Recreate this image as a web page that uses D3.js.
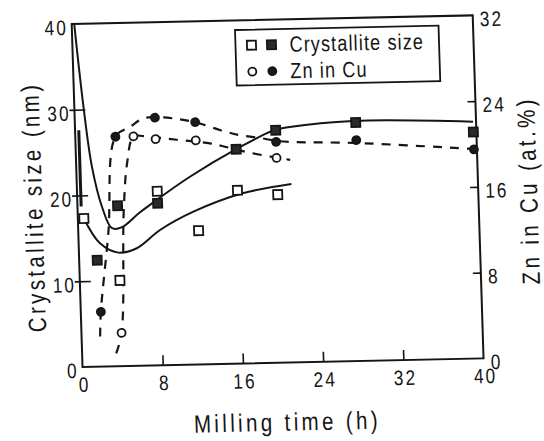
<!DOCTYPE html>
<html>
<head>
<meta charset="utf-8">
<script src="https://cdn.jsdelivr.net/npm/d3@7"></script>
<style>
  html, body { margin: 0; padding: 0; background: #fff; }
  svg { display: block; }
  text { font-family: "Liberation Sans", Arial, sans-serif; fill: #151515; }
</style>
</head>
<body>
<svg id="chart" width="544" height="441"></svg>
<script>
// ---- measured points ----
const crystOpenTime   = [0.6, 4, 8, 12, 16, 20];
const crystOpenSize   = [17.3, 10.0, 20.3, 15.6, 20.2, 19.6];
const crystFilledTime = [1.8, 4, 8, 16, 20, 28, 39.7];
const crystFilledSize = [12.4, 18.7, 18.9, 25.0, 27.1, 27.8, 26.4];
const znOpenTime      = [4, 5.8, 8, 12, 20];
const znOpenValue     = [3.1, 21.4, 21.1, 20.9, 19.1];
const znFilledTime    = [2, 4, 8, 12, 20, 28, 39.7];
const znFilledValue   = [5.1, 21.4, 23.1, 22.6, 20.6, 20.6, 19.5];

// ---- trend curves ----
const trendCrystFilledTime = [0.25, 0.9, 1.57, 2.45, 3.38, 4.38, 6.12, 7.44, 11.3, 16, 19.8, 21.4, 27.75, 39.7];
const trendCrystFilledSize = [40, 30.5, 23.3, 18.6, 16.1, 16.2, 17.8, 18.9, 21.9, 25.0, 27.1, 27.45, 28.0, 27.6];
const trendCrystOpenTime   = [0.6, 2.13, 3.93, 5.78, 8.16, 11.54, 16.5, 21.4];
const trendCrystOpenSize   = [17.3, 14.37, 13.24, 13.7, 15.77, 17.82, 19.84, 20.8];
const trendZnFilledTime    = [1.85, 2.0, 3.0, 4.0, 5.5, 6.8, 8, 9.8, 12, 14.5, 16.4, 18.4, 20, 21.7, 27.7, 39.6];
const trendZnFilledValue   = [2.8, 5.1, 12.5, 21.4, 22.3, 23.05, 23.15, 23.0, 22.6, 21.8, 21.3, 21.0, 20.7, 20.55, 20.35, 19.55];
const trendZnOpenTime      = [3.4, 4.0, 4.6, 5.1, 5.8, 6.8, 8.5, 10.1, 13.4, 15.1, 17.1, 19.6, 21.35];
const trendZnOpenValue     = [1.2, 3.1, 14.5, 19.0, 21.4, 21.4, 21.2, 21.0, 20.6, 20.2, 19.7, 19.2, 18.9];

// initial size spread at t = 0
const initialSpreadTime = 0.37;
const initialSpreadSize = [18.7, 27.6];

// ---- axes ticks / labels ----
const timeTicks = [0, 8, 16, 24, 32, 40];
const sizeTicks = [0, 10, 20, 30, 40];
const znTicks   = [0, 8, 16, 24, 32];
const legendLabels = ["Crystallite size", "Zn in Cu"];
const xTitle = "Milling time (h)";
const yLeftTitle = "Crystallite size (nm)";
const yRightTitle = "Zn in Cu (at.%)";

const W = 401, H = 343;
const ink = "#151515";
const NARROW = 0.82;   // horizontal squeeze of the lettering

const svg = d3.select("#chart");
// the sheet sits slightly askew on the page
const g = svg.append("g").attr("transform", "matrix(1,-0.0215,0.0316,1,71.7,24)");

const x  = d3.scaleLinear().domain([0, 40]).range([0, W]);
const yL = d3.scaleLinear().domain([0, 40]).range([H, 0]);
const yR = d3.scaleLinear().domain([0, 32]).range([H, 0]);

// place a narrow text at (tx, ty), optionally rotated
function narrow(sel, tx, ty, rot) {
  sel.attr("x", 0).attr("y", 0)
     .attr("transform", `translate(${tx},${ty})${rot ? ` rotate(${rot})` : ""} scale(${NARROW},1)`);
}

// frame
g.append("rect").attr("x", 0).attr("y", 0).attr("width", W).attr("height", H)
  .attr("fill", "none").attr("stroke", ink).attr("stroke-width", 2);

// bottom axis
const axB = g.append("g").attr("transform", `translate(0,${H})`)
  .call(d3.axisBottom(x).tickValues(timeTicks).tickSize(0).tickPadding(0));
axB.select(".domain").remove();
axB.selectAll(".tick line")
  .attr("y2", d => (d > 0 && d < 40) ? -10 : 0)
  .attr("stroke", ink).attr("stroke-width", 1.6);
axB.selectAll(".tick text")
  .attr("dy", 0).style("font-size", "21px").style("letter-spacing", "2.5px").attr("fill", ink)
  .each(function () { narrow(d3.select(this), 1, 25); });

// left axis
const axL = g.append("g")
  .call(d3.axisLeft(yL).tickValues(sizeTicks).tickSize(0).tickPadding(0));
axL.select(".domain").remove();
axL.selectAll(".tick line")
  .attr("x1", d => (d > 0 && d < 40) ? -5 : 0)
  .attr("x2", d => (d > 0 && d < 40) ? 11 : 0)
  .attr("stroke", ink).attr("stroke-width", 1.6);
axL.selectAll(".tick text")
  .attr("dy", "0.5em").style("font-size", "21px").style("letter-spacing", "2.5px").attr("fill", ink)
  .each(function () { narrow(d3.select(this), -4, 0); });

// right axis
const axR = g.append("g").attr("transform", `translate(${W},0)`)
  .call(d3.axisRight(yR).tickValues(znTicks).tickSize(0).tickPadding(0));
axR.select(".domain").remove();
axR.selectAll(".tick line")
  .attr("x1", d => (d > 0 && d < 32) ? -8 : 0)
  .attr("x2", 0)
  .attr("stroke", ink).attr("stroke-width", 1.6);
axR.selectAll(".tick text")
  .attr("dy", "0.5em").style("font-size", "21px").style("letter-spacing", "2.5px").attr("fill", ink)
  .each(function () { narrow(d3.select(this), 7, 0); });

// axis titles
g.append("text").attr("text-anchor", "middle")
  .style("font-size", "25px").style("letter-spacing", "4.1px").text(xTitle)
  .call(narrow, 203, 411);
g.append("text").attr("text-anchor", "middle").attr("dominant-baseline", "central")
  .style("font-size", "25px").style("letter-spacing", "4.1px").text(yLeftTitle)
  .call(narrow, -44, 182, -90);
g.append("text").attr("text-anchor", "middle").attr("dominant-baseline", "central")
  .style("font-size", "25px").style("letter-spacing", "4.1px").text(yRightTitle)
  .call(narrow, 451, 176, -90);

// trend curves
const zip = (a, b) => a.map((v, i) => [v, b[i]]);
const lineL = d3.line().x(d => x(d[0])).y(d => yL(d[1])).curve(d3.curveCatmullRom.alpha(0.5));
const lineR = d3.line().x(d => x(d[0])).y(d => yR(d[1])).curve(d3.curveCatmullRom.alpha(0.5));

g.append("path").attr("d", lineL(zip(trendCrystFilledTime, trendCrystFilledSize)))
  .attr("fill", "none").attr("stroke", ink).attr("stroke-width", 2);
g.append("path").attr("d", lineL(zip(trendCrystOpenTime, trendCrystOpenSize)))
  .attr("fill", "none").attr("stroke", ink).attr("stroke-width", 2);
g.append("path").attr("d", lineR(zip(trendZnFilledTime, trendZnFilledValue)))
  .attr("fill", "none").attr("stroke", ink).attr("stroke-width", 2.2).attr("stroke-dasharray", "9,8");
g.append("path").attr("d", lineR(zip(trendZnOpenTime, trendZnOpenValue)))
  .attr("fill", "none").attr("stroke", ink).attr("stroke-width", 2.2).attr("stroke-dasharray", "9,8");

// initial spread bar
g.append("line")
  .attr("x1", x(initialSpreadTime)).attr("x2", x(initialSpreadTime))
  .attr("y1", yL(initialSpreadSize[0])).attr("y2", yL(initialSpreadSize[1]))
  .attr("stroke", ink).attr("stroke-width", 3);

// markers
const sq = 9, rc = 4;
function squares(times, vals, filled) {
  g.append("g").selectAll("rect").data(zip(times, vals)).join("rect")
    .attr("x", d => x(d[0]) - sq / 2).attr("y", d => yL(d[1]) - sq / 2)
    .attr("width", sq).attr("height", sq)
    .attr("fill", filled ? "#2a2a2a" : "#fff").attr("stroke", ink).attr("stroke-width", 1.8);
}
function circles(times, vals, filled) {
  g.append("g").selectAll("circle").data(zip(times, vals)).join("circle")
    .attr("cx", d => x(d[0])).attr("cy", d => yR(d[1])).attr("r", rc)
    .attr("fill", filled ? "#1a1a1a" : "#fff").attr("stroke", ink).attr("stroke-width", 1.8);
}
squares(crystOpenTime, crystOpenSize, false);
squares(crystFilledTime, crystFilledSize, true);
circles(znOpenTime, znOpenValue, false);
circles(znFilledTime, znFilledValue, true);

// legend
const lg = g.append("g");
lg.append("rect").attr("x", 163).attr("y", 9.5).attr("width", 203.5).attr("height", 55.5)
  .attr("fill", "#fff").attr("stroke", ink).attr("stroke-width", 1.8);
const rowY = [25, 51.5];
lg.append("rect").attr("x", 179 - sq / 2).attr("y", rowY[0] - sq / 2).attr("width", sq).attr("height", sq)
  .attr("fill", "#fff").attr("stroke", ink).attr("stroke-width", 1.8);
lg.append("rect").attr("x", 199 - sq / 2).attr("y", rowY[0] - sq / 2).attr("width", sq).attr("height", sq)
  .attr("fill", "#2a2a2a").attr("stroke", ink).attr("stroke-width", 1.8);
lg.append("circle").attr("cx", 179).attr("cy", rowY[1]).attr("r", rc)
  .attr("fill", "#fff").attr("stroke", ink).attr("stroke-width", 1.8);
lg.append("circle").attr("cx", 199).attr("cy", rowY[1]).attr("r", rc)
  .attr("fill", "#1a1a1a").attr("stroke", ink).attr("stroke-width", 1.8);
lg.selectAll("text.lab").data(legendLabels).join("text").attr("class", "lab")
  .style("font-size", "22px").style("letter-spacing", "1.4px").text(d => d)
  .each(function (d, i) { narrow(d3.select(this), 217, rowY[i] + 7.5); });
</script>
</body>
</html>
